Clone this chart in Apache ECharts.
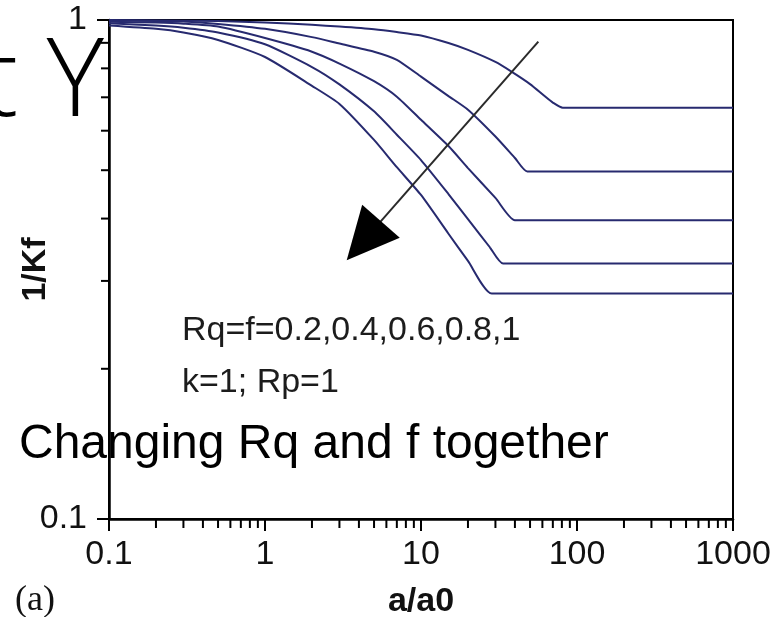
<!DOCTYPE html>
<html><head><meta charset="utf-8">
<script src="https://cdn.jsdelivr.net/npm/echarts@6/dist/echarts.min.js"></script>
<style>html,body{margin:0;padding:0;background:#fff}#c{width:776px;height:617px}</style>
</head><body><div id="c"></div>
<script>
// ---- data ----
const xTickLabels = ['0.1', '1', '10', '100', '1000'];
const yTickLabels = ['0.1', '1'];
const xMinorTicks = [0.2,0.3,0.4,0.5,0.6,0.7,0.8,0.9, 2,3,4,5,6,7,8,9, 20,30,40,50,60,70,80,90, 200,300,400,500,600,700,800,900];
const yMinorTicks = [0.2,0.3,0.4,0.5,0.6,0.7,0.8,0.9];

// 1/Kf versus a/a0 for Rq = f = 0.2, 0.4, 0.6, 0.8, 1  (k = 1, Rp = 1)
const curveF02 = [[0.1,1.0],[0.5,0.995],[1,0.989],[2,0.978],[3,0.970],[5,0.958],[7,0.946],[10,0.931],[15,0.899],[20,0.871],[30,0.824],[38,0.788],[50,0.744],[62,0.704],[70,0.683],[81,0.667],[150,0.667],[1000,0.667]];
const curveF04 = [[0.1,0.997],[0.2,0.995],[0.3,0.993],[0.5,0.982],[1,0.960],[2,0.924],[3,0.897],[5,0.864],[7,0.832],[10,0.770],[15,0.704],[20,0.661],[30,0.584],[40,0.529],[48,0.497],[100,0.497],[1000,0.497]];
const curveF06 = [[0.1,0.992],[0.2,0.988],[0.3,0.983],[0.5,0.970],[1,0.920],[2,0.864],[3,0.818],[5,0.754],[7,0.702],[10,0.631],[15,0.559],[20,0.505],[30,0.440],[40,0.397],[90,0.397],[1000,0.397]];
const curveF08 = [[0.1,0.985],[0.2,0.975],[0.3,0.965],[0.5,0.944],[1,0.894],[2,0.805],[3,0.743],[5,0.656],[7,0.589],[10,0.524],[15,0.448],[20,0.399],[27.7,0.350],[33.6,0.325],[80,0.325],[1000,0.325]];
const curveF10 = [[0.1,0.975],[0.2,0.960],[0.3,0.944],[0.5,0.912],[1,0.843],[2,0.738],[3,0.679],[5,0.575],[7,0.507],[10,0.446],[15,0.373],[20,0.329],[28.4,0.283],[70,0.283],[1000,0.283]];
const seriesNames = ['Rq=f=0.2','Rq=f=0.4','Rq=f=0.6','Rq=f=0.8','Rq=f=1'];

const arrowFrom = [56.5, 0.905];
const arrowTo = [3.34, 0.330];

const noteLine1 = 'Rq=f=0.2,0.4,0.6,0.8,1';
const noteLine2 = 'k=1; Rp=1';
const overlayText = 'Changing Rq and f together';
const titleFragment = 't Y';
const panelLabel = '(a)';
const xName = 'a/a0';
const yName = '1/Kf';

// ---- chart ----
const SANS = '"Liberation Sans", Arial, Helvetica, sans-serif';
const lineColor = '#272a6f';
const chart = echarts.init(document.getElementById('c'), null, {renderer: 'canvas'});

function labelFor(list) {
  return function (v) {
    const hit = list.find(l => Math.abs(Math.log10(+l) - Math.log10(v)) < 1e-6);
    return hit === undefined ? '' : hit;
  };
}

const curves = [curveF02, curveF04, curveF06, curveF08, curveF10];
const lineSeries = curves.map((d, i) => ({
  name: seriesNames[i], type: 'line', data: d, showSymbol: false, smooth: 0.2,
  lineStyle: {color: lineColor, width: 2}, itemStyle: {color: lineColor}, z: 3, silent: true
}));

const minorX = {
  type: 'custom', data: xMinorTicks.map(v => [v, 0.1]), encode: {x: 0, y: 1}, clip: false, z: 6, silent: true,
  renderItem: (params, api) => {
    const p = api.coord([api.value(0), api.value(1)]);
    return {type: 'line', shape: {x1: p[0], y1: p[1], x2: p[0], y2: p[1] + 9}, style: {stroke: '#000', lineWidth: 2}};
  }
};
const minorY = {
  type: 'custom', data: yMinorTicks.map(v => [0.1, v]), encode: {x: 0, y: 1}, clip: false, z: 6, silent: true,
  renderItem: (params, api) => {
    const p = api.coord([api.value(0), api.value(1)]);
    return {type: 'line', shape: {x1: p[0] - 8, y1: p[1], x2: p[0], y2: p[1]}, style: {stroke: '#000', lineWidth: 2}};
  }
};
const arrow = {
  type: 'custom', data: [[arrowFrom[0], arrowFrom[1], arrowTo[0], arrowTo[1]]], encode: {x: [0, 2], y: [1, 3]},
  clip: false, z: 8, silent: true,
  renderItem: (params, api) => {
    const s = api.coord([api.value(0), api.value(1)]);
    const t = api.coord([api.value(2), api.value(3)]);
    const dx = t[0] - s[0], dy = t[1] - s[1];
    const L = Math.hypot(dx, dy), ux = dx / L, uy = dy / L;
    const headLen = 52, headHalf = 25;
    const bx = t[0] - ux * headLen, by = t[1] - uy * headLen;
    const nx = -uy, ny = ux;
    return {type: 'group', children: [
      {type: 'line', shape: {x1: s[0], y1: s[1], x2: bx + ux * 6, y2: by + uy * 6}, style: {stroke: '#2a2a2a', lineWidth: 2}},
      {type: 'polygon', shape: {points: [[t[0], t[1]], [bx + nx * headHalf, by + ny * headHalf], [bx - nx * headHalf, by - ny * headHalf]]}, style: {fill: '#000'}}
    ]};
  }
};

chart.setOption({
  animation: false,
  backgroundColor: '#fff',
  grid: {left: 109, right: 43, top: 20, bottom: 98, containLabel: false, outerBoundsMode: 'none',
         show: true, borderColor: '#000', borderWidth: 2, backgroundColor: 'transparent'},
  xAxis: {
    type: 'log', logBase: 10, min: 0.1, max: 1000,
    name: xName, nameLocation: 'middle', nameGap: 66, nameMoveOverlap: false,
    nameTextStyle: {fontSize: 34, fontWeight: 'bold', fontFamily: SANS, color: '#111'},
    axisLine: {lineStyle: {color: '#000', width: 2.5}},
    axisTick: {length: 12, lineStyle: {color: '#000', width: 2}},
    axisLabel: {fontSize: 34, fontFamily: SANS, color: '#111', margin: 19, formatter: labelFor(xTickLabels)},
    splitLine: {show: false}, minorTick: {show: false}, minorSplitLine: {show: false}
  },
  yAxis: {
    type: 'log', logBase: 10, min: 0.1, max: 1,
    name: yName, nameLocation: 'middle', nameGap: 56, nameMoveOverlap: false,
    nameTextStyle: {fontSize: 34, fontWeight: 'bold', fontFamily: SANS, color: '#111'},
    axisLine: {lineStyle: {color: '#000', width: 2.5}},
    axisTick: {length: 12, lineStyle: {color: '#000', width: 2}},
    axisLabel: {fontSize: 34, fontFamily: SANS, color: '#111', margin: 22, formatter: labelFor(yTickLabels)},
    splitLine: {show: false}, minorTick: {show: false}, minorSplitLine: {show: false}
  },
  series: lineSeries.concat([minorX, minorY, arrow]),
  graphic: [
    {type: 'text', x: 182, y: 331, z: 100, silent: true,
     style: {text: noteLine1, fontSize: 34, fontFamily: SANS, fill: '#1c1c1c', align: 'left', verticalAlign: 'middle'}},
    {type: 'text', x: 182, y: 383, z: 100, silent: true,
     style: {text: noteLine2, fontSize: 34, fontFamily: SANS, fill: '#1c1c1c', align: 'left', verticalAlign: 'middle'}},
    {type: 'text', x: 19, y: 445, z: 100, silent: true,
     style: {text: overlayText, fontSize: 48, fontFamily: SANS, fill: '#000', align: 'left', verticalAlign: 'middle'}},
    {type: 'text', x: 104, y: 85, z: 100, silent: true,
     style: {text: titleFragment, fontSize: 109, fontFamily: '"Open Sans", "Noto Sans", sans-serif', fontWeight: 300, fill: '#000', align: 'right', verticalAlign: 'middle'}},
    {type: 'text', x: 15, y: 601, z: 100, silent: true,
     style: {text: panelLabel, fontSize: 36, fontFamily: '"Liberation Serif", "Times New Roman", serif', fill: '#111', align: 'left', verticalAlign: 'middle'}}
  ]
});
</script></body></html>
